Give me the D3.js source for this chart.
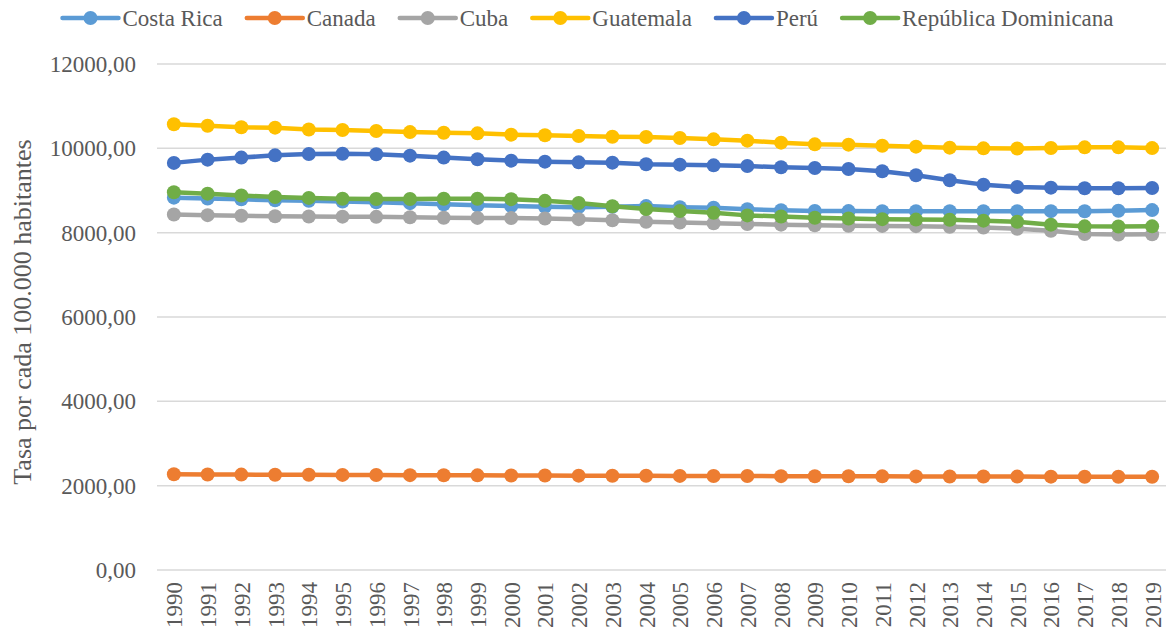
<!DOCTYPE html>
<html lang="es">
<head>
    <meta charset="UTF-8">
    <title>Tasa por cada 100.000 habitantes</title>
    <style>
        body { margin: 0; background: #fff; }
        svg text { font-family: 'Liberation Serif', 'Times New Roman', serif; fill: #595959; }
    </style>
</head>
<body>
    <svg id="svg" width="1166" height="634"></svg>

    <script src="https://d3js.org/d3.v7.min.js"></script>
    <script>
        // data
        const years = d3.range(1990, 2020).map(String)
        const yTicks = [0, 2000, 4000, 6000, 8000, 10000, 12000]

        const costaRica = [8830, 8810, 8790, 8770, 8755, 8740, 8720, 8700, 8675, 8650,
            8630, 8615, 8605, 8612, 8630, 8605, 8590, 8555, 8530, 8515,
            8512, 8510, 8510, 8510, 8510, 8510, 8510, 8508, 8520, 8535]
        const canada = [2270, 2265, 2262, 2260, 2258, 2255, 2252, 2250, 2247, 2245,
            2242, 2240, 2238, 2236, 2234, 2232, 2230, 2228, 2226, 2224,
            2222, 2221, 2220, 2218, 2216, 2215, 2214, 2213, 2212, 2211]
        const cuba = [8430, 8415, 8400, 8390, 8385, 8380, 8375, 8365, 8355, 8350,
            8345, 8335, 8320, 8295, 8260, 8240, 8225, 8205, 8190, 8175,
            8165, 8160, 8155, 8140, 8120, 8090, 8045, 7970, 7955, 7960]
        const guatemala = [10570, 10535, 10500, 10490, 10445, 10435, 10410, 10385, 10370, 10355,
            10325, 10310, 10292, 10276, 10268, 10245, 10213, 10182, 10135, 10095,
            10087, 10063, 10040, 10016, 10000, 9995, 10008, 10023, 10023, 10005]
        const peru = [9655, 9732, 9780, 9834, 9865, 9873, 9858, 9826, 9780, 9740,
            9708, 9684, 9668, 9660, 9621, 9613, 9597, 9581, 9550, 9534,
            9510, 9455, 9360, 9242, 9139, 9084, 9068, 9052, 9052, 9060]
        const repDom = [8960, 8925, 8880, 8845, 8825, 8805, 8800, 8800, 8805, 8805,
            8795, 8755, 8705, 8625, 8560, 8515, 8470, 8410, 8385, 8355,
            8335, 8320, 8310, 8305, 8285, 8260, 8190, 8150, 8145, 8150]

        const seriesNames = ['Costa Rica', 'Canada', 'Cuba', 'Guatemala', 'Perú', 'República Dominicana']
        const seriesValues = [costaRica, canada, cuba, guatemala, peru, repDom]
        const colors = ['#5B9BD5', '#ED7D31', '#A5A5A5', '#FFC000', '#4472C4', '#70AD47']

        // scales
        const margin = { left: 157, right: 1169, top: 64, bottom: 570 }
        const xScale = d3.scalePoint()
            .domain(years)
            .range([margin.left, margin.right])
            .padding(0.5)
        const yScale = d3.scaleLinear()
            .domain([0, 12000])
            .range([margin.bottom, margin.top])
        const fmt = v => d3.format('.2f')(v).replace('.', ',')

        const svg = d3.select('#svg')

        // gridlines
        svg.append('g')
            .selectAll('line')
            .data(yTicks)
            .enter()
            .append('line')
            .attr('x1', margin.left)
            .attr('x2', margin.right)
            .attr('y1', d => yScale(d))
            .attr('y2', d => yScale(d))
            .attr('stroke', '#D9D9D9')
            .attr('stroke-width', 1.5)

        // y axis
        const yAxis = svg.append('g')
            .attr('transform', `translate(${margin.left},0)`)
            .call(d3.axisLeft(yScale).tickValues(yTicks).tickFormat(fmt).tickSize(0).tickPadding(21))
        yAxis.select('.domain').remove()
        yAxis.selectAll('text')
            .style('font-size', '23px')
            .style('font-family', "'Liberation Serif', serif")
            .attr('fill', '#595959')

        // x axis
        const xAxis = svg.append('g')
            .attr('transform', `translate(0,${margin.bottom})`)
            .call(d3.axisBottom(xScale).tickSize(0))
        xAxis.select('.domain').remove()
        xAxis.selectAll('text')
            .attr('transform', 'rotate(-90)')
            .attr('x', -12)
            .attr('y', 0)
            .attr('dy', '0.35em')
            .style('text-anchor', 'end')
            .style('font-size', '23px')
            .style('font-family', "'Liberation Serif', serif")
            .attr('fill', '#595959')

        // axis title
        svg.append('text')
            .text('Tasa por cada 100.000 habitantes')
            .attr('transform', `translate(31,${(margin.top + margin.bottom) / 2 - 5}) rotate(-90)`)
            .attr('text-anchor', 'middle')
            .style('font-size', '26px')

        // series
        const line = d3.line()
            .x((d, i) => xScale(years[i]))
            .y(d => yScale(d))

        seriesValues.forEach((vals, s) => {
            const g = svg.append('g')
            g.append('path')
                .attr('d', line(vals))
                .attr('fill', 'none')
                .attr('stroke', colors[s])
                .attr('stroke-width', 4.5)
                .attr('stroke-linejoin', 'round')
                .attr('stroke-linecap', 'round')
            g.selectAll('circle')
                .data(vals)
                .enter()
                .append('circle')
                .attr('cx', (d, i) => xScale(years[i]))
                .attr('cy', d => yScale(d))
                .attr('r', 7)
                .attr('fill', colors[s])
        })

        // legend
        const legend = svg.append('g')
        let lx = 0
        seriesNames.forEach((name, s) => {
            const item = legend.append('g').attr('transform', `translate(${lx},18)`)
            item.append('line')
                .attr('x1', 0).attr('x2', 56)
                .attr('stroke', colors[s])
                .attr('stroke-width', 4.5)
                .attr('stroke-linecap', 'round')
            item.append('circle')
                .attr('cx', 28)
                .attr('r', 7)
                .attr('fill', colors[s])
            const t = item.append('text')
                .text(name)
                .attr('x', 60)
                .attr('dy', '0.33em')
                .style('font-size', '23px')
            lx += 60 + t.node().getComputedTextLength() + 24
        })
        const legendWidth = lx - 24
        legend.attr('transform', `translate(${588 - legendWidth / 2},0)`)
    </script>
</body>
</html>
